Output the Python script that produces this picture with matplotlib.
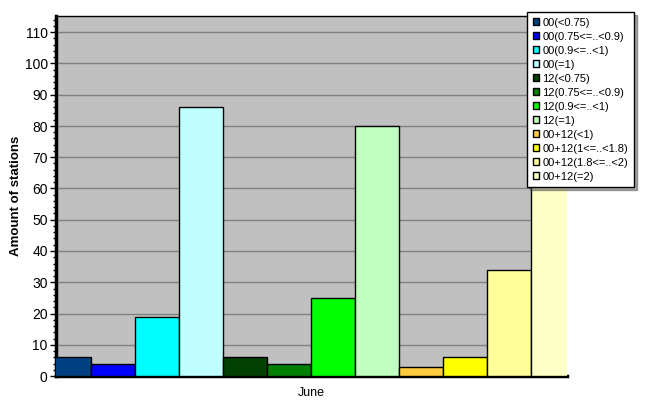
import matplotlib
matplotlib.use('Agg')
import matplotlib.pyplot as plt
from matplotlib.patches import Patch
from matplotlib.ticker import MultipleLocator

plt.rcParams['font.family'] = ['Liberation Sans', 'DejaVu Sans']

# data
month = 'June'
series = ['00(<0.75)', '00(0.75<=..<0.9)', '00(0.9<=..<1)', '00(=1)',
          '12(<0.75)', '12(0.75<=..<0.9)', '12(0.9<=..<1)', '12(=1)',
          '00+12(<1)', '00+12(1<=..<1.8)', '00+12(1.8<=..<2)', '00+12(=2)']
counts = [6, 4, 19, 86, 6, 4, 25, 80, 3, 6, 34, 110]
colors = ['#004080', '#0000ff', '#00ffff', '#c0ffff',
          '#004000', '#008000', '#00ff00', '#c0ffc0',
          '#ffcc40', '#ffff00', '#ffff99', '#ffffc8']

fig = plt.figure(figsize=(6.67, 4.15), dpi=100)
ax = fig.add_axes([56 / 667, 39 / 415, (567 - 56) / 667, (376 - 16) / 415])
ax.set_facecolor('#c0c0c0')

x = list(range(len(counts)))
ax.bar(x, counts, width=1.0, color=colors, edgecolor='black', linewidth=1.0, zorder=3)

# bars on the ends are cut by the plot area
ax.set_xlim(-0.5 + 8.7 / 44, len(counts) - 0.5 - 8 / 44)
ax.set_ylim(0, 115.2)

ax.yaxis.set_major_locator(MultipleLocator(10))
ax.yaxis.set_minor_locator(MultipleLocator(2))
ax.grid(axis='y', which='major', color='#808080', linewidth=1.0, zorder=1)
ax.tick_params(axis='y', which='major', length=4, width=1, labelsize=10, pad=2)
ax.tick_params(axis='y', which='minor', length=2, width=1)
ax.set_xticks([(len(counts) - 1) / 2])
ax.set_xticklabels([month], fontsize=9)
ax.tick_params(axis='x', length=0, pad=8)

for s in ['left', 'bottom']:
    ax.spines[s].set_linewidth(2.5)
ax.spines['top'].set_linewidth(1)
ax.spines['right'].set_visible(False)

ax.set_ylabel('Amount of stations', fontsize=9.5, fontweight='bold', labelpad=2)

handles = [Patch(facecolor=c, edgecolor='black', linewidth=1) for c in colors]
leg = fig.legend(handles, series, loc='upper left', bbox_to_anchor=(527 / 667, 1 - 12 / 415),
                 fontsize=8, frameon=True, fancybox=False, shadow=True,
                 handlelength=0.6, handleheight=0.6, handletextpad=0.3,
                 labelspacing=0.36, borderpad=0.5, borderaxespad=0)
leg.get_frame().set_edgecolor('black')
leg.get_frame().set_linewidth(1)

fig.savefig('out.png', dpi=100)
